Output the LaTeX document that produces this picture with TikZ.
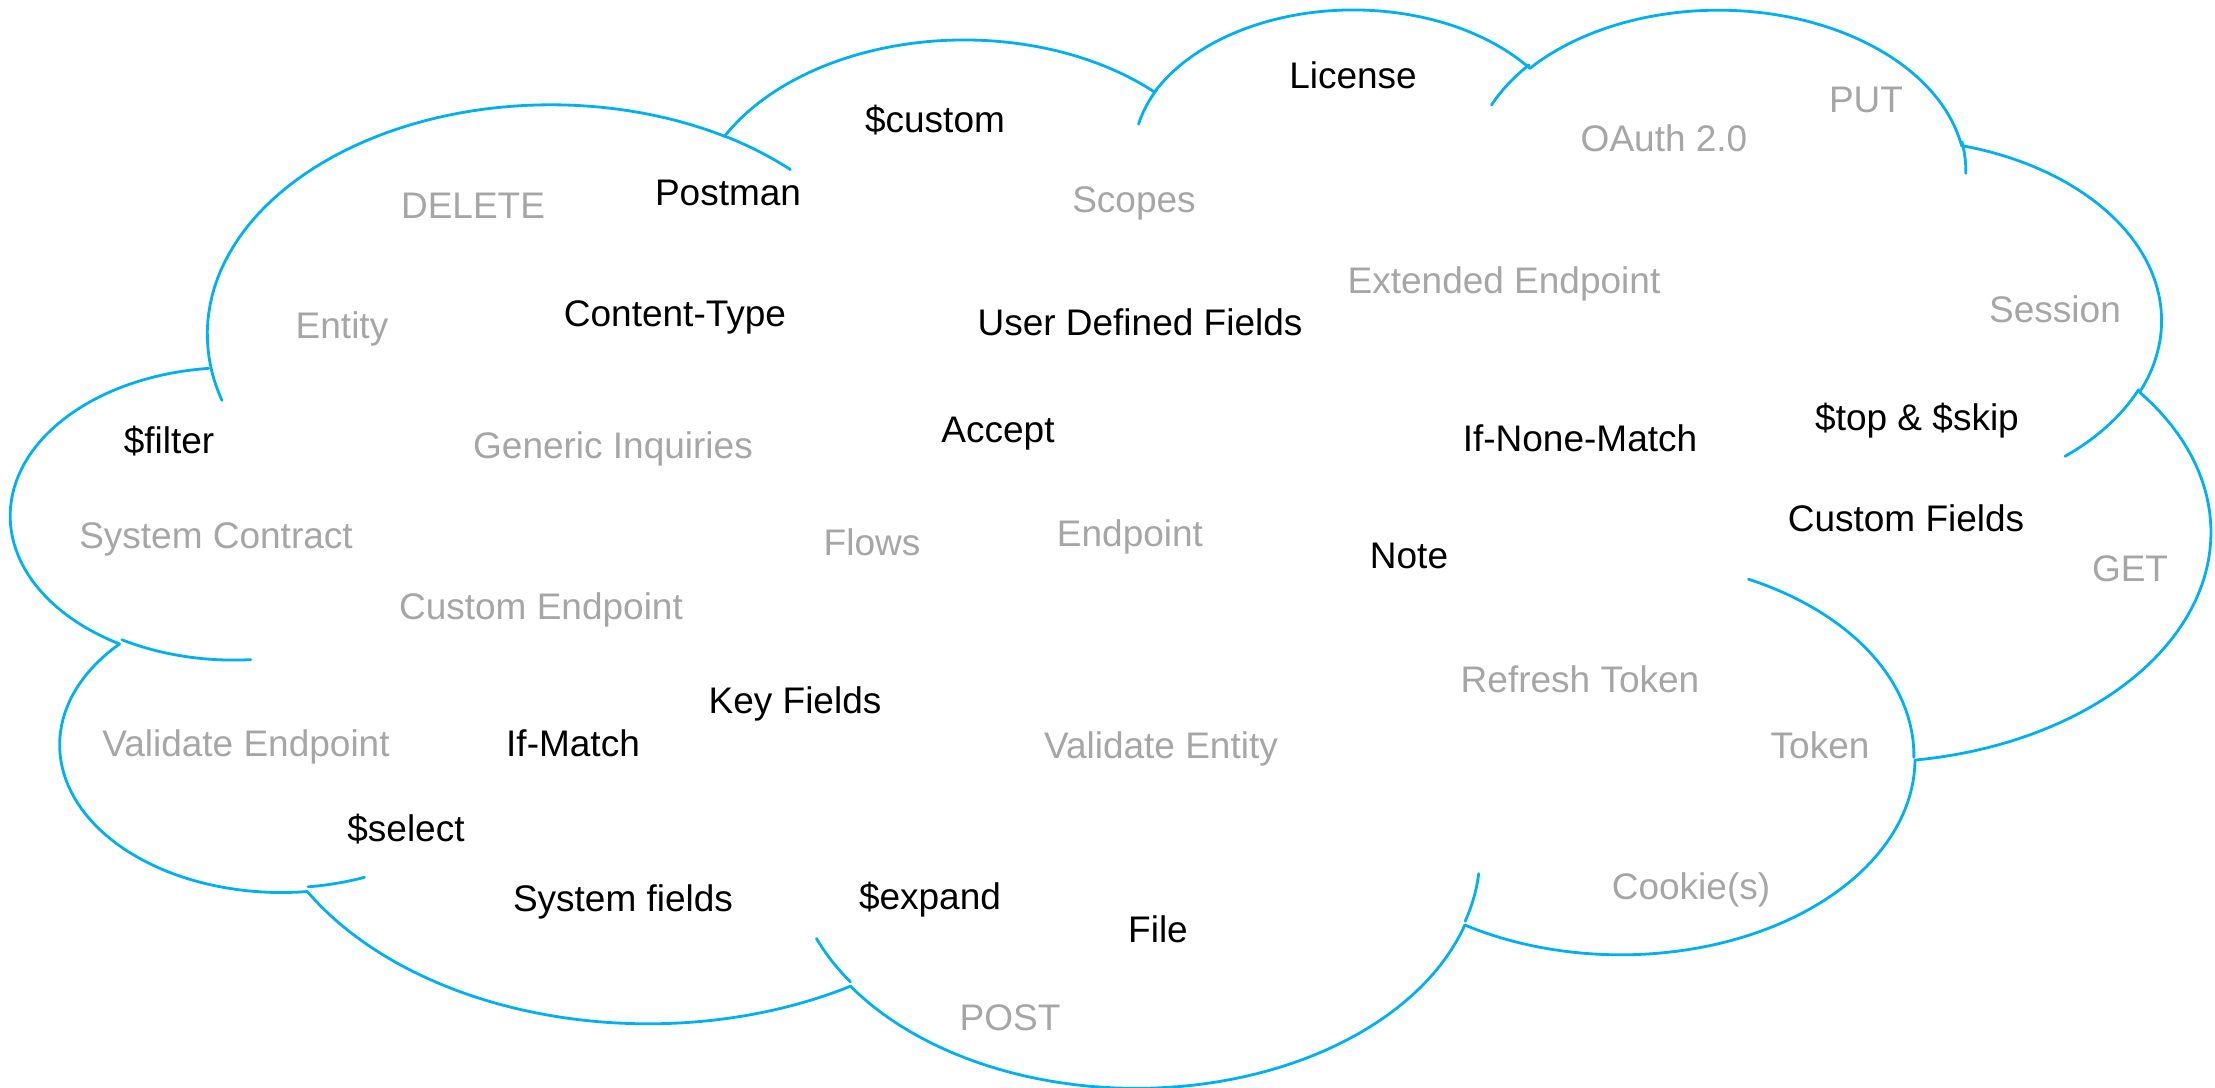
\documentclass[tikz,border=0pt]{standalone}
\usepackage{fontspec}
\setmainfont{Liberation Sans}
\definecolor{cloudblue}{HTML}{00B0F0}
\definecolor{wordgray}{HTML}{A6A6A6}
% one elliptical arc of the cloud outline, continuing from (\curx,\cury)
% #1 x radius, #2 y radius, #3 start angle, #4 sweep (angles as seen from the centre)
\newcommand\arcstep[4]{%
  \pgfmathsetmacro\tA{atan2((#1)*sin(#3),(#2)*cos(#3))}%
  \pgfmathsetmacro\tB{atan2((#1)*sin((#3)+(#4)),(#2)*cos((#3)+(#4)))}%
  \pgfmathsetmacro\tB{\tB+360*(\tB<\tA)}%
  \pgfmathsetmacro\ocx{\curx-(#1)*cos(\tA)}%
  \pgfmathsetmacro\ocy{\cury-(#2)*sin(\tA)}%
  \draw[lobe] plot[domain=\tA:\tB, samples=60, variable=\t] ({\ocx+(#1)*cos(\t)},{\ocy+(#2)*sin(\t)});
  \pgfmathsetmacro\curx{\ocx+(#1)*cos(\tB)}%
  \pgfmathsetmacro\cury{\ocy+(#2)*sin(\tB)}%
}
\newcommand\arcfrom[6]{\def\curx{#1}\def\cury{#2}\arcstep{#3}{#4}{#5}{#6}}
\begin{document}
\begin{tikzpicture}[x=0.5pt,y=-0.5pt,
  lobe/.style={draw=cloudblue, line width=1.4pt, line cap=round},
  word/.style={anchor=base, inner sep=0pt, font=\fontsize{18.5}{22}\selectfont},
  dark/.style={word, text=black},
  light/.style={word, text=wordgray}]
\useasboundingbox (0,0) rectangle (2215,1087);
% cloud outline
\begin{scope}[shift={(6pt,-3.2pt)}, x=0.2544pt, y=-0.12477pt]
  \def\curx{390.0}\def\cury{1437.0}
  \arcstep{675.3}{919.0}{-190.48748}{123.78053}
  \arcstep{533.3}{726.7}{-144.10238}{89.94523}
  \arcstep{436.5}{594.5}{-145.80792}{99.72302}
  \arcstep{485.7}{659.5}{-130.98607}{117.24173}
  \arcstep{533.3}{727.3}{-78.70888}{109.02692}
  \arcstep{677.5}{922.0}{-46.26725}{130.26900}
  \arcstep{578.5}{786.7}{0.62502}{114.03333}
  \arcstep{675.2}{921.5}{22.45160}{115.17255}
  \arcstep{772.0}{1054.3}{66.24263}{75.71102}
  \arcstep{436.0}{591.8}{-274.94208}{146.73557}
  \arcstep{434.5}{594.5}{-246.82850}{152.51885}
  % inner tails
  \arcfrom{469.3}{2617.7}{434.5}{594.5}{86.74200}{26.42950}
  \arcfrom{692.8}{3489.9}{436.0}{591.8}{73.61047}{11.44747}
  \arcfrom{1647.8}{3909.0}{675.2}{921.5}{137.62415}{14.08110}
  \arcfrom{2882.7}{3475.1}{675.2}{921.5}{6.45327}{15.99835}
  \arcfrom{3412.9}{2295.4}{578.5}{786.7}{-70.29235}{70.91737}
  \arcfrom{4179.8}{1535.4}{533.3}{727.3}{30.31803}{27.75150}
  \arcfrom{3832.4}{542.6}{485.7}{659.5}{-13.74433}{14.85890}
  \arcfrom{2907.8}{395.2}{485.7}{659.5}{-149.18145}{18.19537}
  \arcfrom{2214.1}{472.0}{436.5}{594.5}{-163.49427}{17.68635}
  \arcfrom{1400.0}{519.2}{675.3}{919.0}{-66.70695}{12.31935}
  \arcfrom{412.7}{1578.9}{675.3}{919.0}{157.65435}{11.85817}
\end{scope}
% words
\node[dark] (custom) at (935,132) {\$custom};
\node[dark] (license) at (1353,88) {License};
\node[dark] (postman) at (728,205) {Postman};
\node[dark] (contenttype) at (675,326) {Content-Type};
\node[dark] (udf) at (1140,335) {User Defined Fields};
\node[dark] (filter) at (169,453) {\$filter};
\node[dark] (accept) at (998,442) {Accept};
\node[dark] (ifnonematch) at (1580,451) {If-None-Match};
\node[dark] (topskip) at (1917,430) {\$top \& \$skip};
\node[dark] (customfields) at (1906,531) {Custom Fields};
\node[dark] (note) at (1409,568) {Note};
\node[dark] (keyfields) at (795,713) {Key Fields};
\node[dark] (ifmatch) at (573,756) {If-Match};
\node[dark] (select) at (406,841) {\$select};
\node[dark] (systemfields) at (623,911) {System fields};
\node[dark] (expand) at (930,909) {\$expand};
\node[dark] (file) at (1158,942) {File};
\node[light] (put) at (1866,112) {PUT};
\node[light] (oauth) at (1664,151) {OAuth 2.0};
\node[light] (delete) at (473,218) {DELETE};
\node[light] (scopes) at (1134,212) {Scopes};
\node[light] (extendedendpoint) at (1504,293) {Extended Endpoint};
\node[light] (session) at (2055,322) {Session};
\node[light] (entity) at (342,338) {Entity};
\node[light] (generic) at (613,458) {Generic Inquiries};
\node[light] (systemcontract) at (216,548) {System Contract};
\node[light] (flows) at (872,555) {Flows};
\node[light] (endpoint) at (1130,546) {Endpoint};
\node[light] (get) at (2130,581) {GET};
\node[light] (customendpoint) at (541,619) {Custom Endpoint};
\node[light] (refresh) at (1580,692) {Refresh Token};
\node[light] (validateendpoint) at (246,756) {Validate Endpoint};
\node[light] (validateentity) at (1161,758) {Validate Entity};
\node[light] (token) at (1820,758) {Token};
\node[light] (cookies) at (1691,899) {Cookie(s)};
\node[light] (post) at (1010,1030) {POST};
\end{tikzpicture}
\end{document}
